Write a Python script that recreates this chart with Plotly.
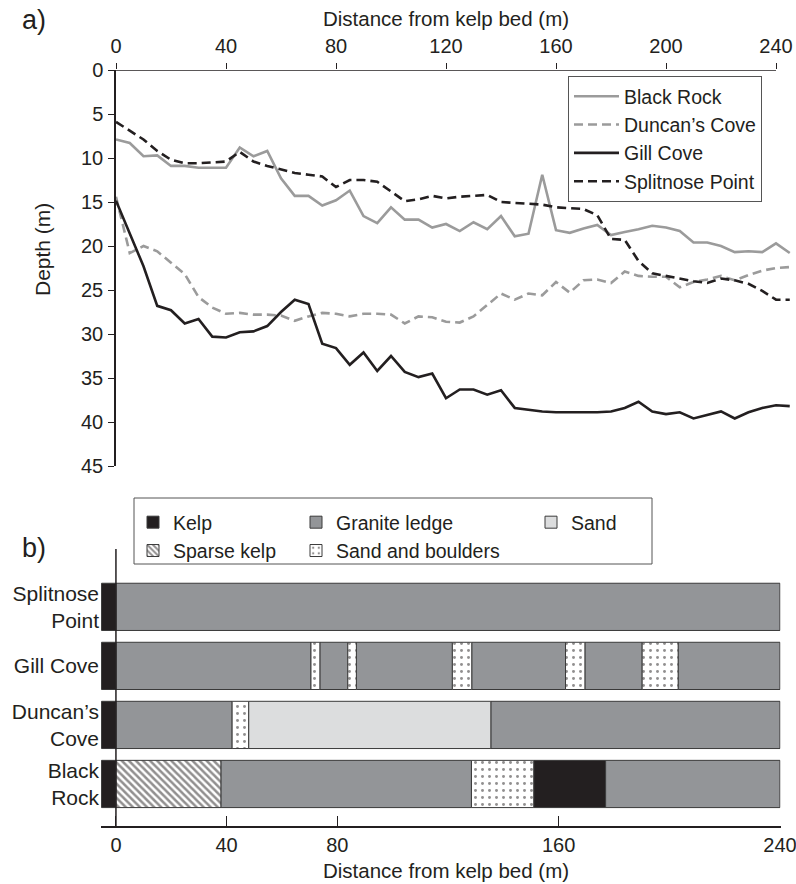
import plotly.graph_objects as go

# ---------------- data: depth profiles (panel a) ----------------
dist = [0, 5, 10, 15, 20, 25, 30, 35, 40, 45, 50, 55, 60, 65, 70, 75, 80, 85, 90, 95,
        100, 105, 110, 115, 120, 125, 130, 135, 140, 145, 150, 155, 160, 165, 170, 175,
        180, 185, 190, 195, 200, 205, 210, 215, 220, 225, 230, 235, 240, 245]

black_rock = [7.9, 8.3, 9.8, 9.7, 10.9, 10.9, 11.1, 11.1, 11.1, 8.8, 9.8, 9.2, 12.3, 14.3,
              14.3, 15.4, 14.8, 13.7, 16.6, 17.4, 15.6, 17.0, 17.0, 17.9, 17.5, 18.3, 17.3,
              18.1, 16.6, 18.9, 18.6, 11.9, 18.2, 18.5, 18.0, 17.6, 18.75, 18.4, 18.1, 17.7,
              17.9, 18.3, 19.6, 19.6, 20.0, 20.7, 20.6, 20.7, 19.7, 20.8]

duncans_cove = [14.4, 20.8, 20.0, 20.6, 21.9, 23.2, 25.8, 27.0, 27.7, 27.6, 27.8, 27.8, 27.9,
                28.5, 28.0, 27.6, 27.7, 28.0, 27.7, 27.7, 27.8, 28.8, 28.0, 28.1, 28.6, 28.7,
                28.0, 26.7, 25.4, 26.1, 25.4, 25.6, 24.1, 25.3, 23.9, 23.8, 24.2, 22.9, 23.4,
                23.5, 23.5, 24.7, 24.1, 23.8, 23.4, 23.9, 23.3, 22.8, 22.5, 22.4]

gill_cove = [14.85, 18.6, 22.3, 26.8, 27.3, 28.8, 28.3, 30.3, 30.4, 29.8, 29.7, 29.1, 27.5,
             26.1, 26.6, 31.1, 31.6, 33.5, 32.1, 34.2, 32.5, 34.3, 34.9, 34.5, 37.3, 36.3,
             36.3, 36.9, 36.4, 38.4, 38.6, 38.8, 38.9, 38.9, 38.9, 38.9, 38.8, 38.4, 37.7,
             38.8, 39.1, 38.9, 39.6, 39.2, 38.8, 39.6, 38.9, 38.4, 38.1, 38.2]

splitnose_point = [5.9, 6.9, 7.9, 9.2, 10.2, 10.6, 10.6, 10.5, 10.4, 9.3, 10.4, 10.9, 11.3,
                   11.7, 11.9, 12.1, 13.3, 12.5, 12.5, 12.7, 13.8, 14.9, 14.7, 14.3, 14.6,
                   14.4, 14.3, 14.2, 15.0, 15.1, 15.2, 15.3, 15.6, 15.7, 15.8, 16.5, 19.2,
                   19.3, 21.7, 23.1, 23.4, 23.7, 24.0, 24.2, 23.7, 23.9, 24.3, 25.1, 26.1, 26.1]

line_names = ["Black Rock", "Duncan’s Cove", "Gill Cove", "Splitnose Point"]

# ---------------- data: habitat segments (panel b) ----------------
site_keys = ["Black Rock", "Duncan’s Cove", "Gill Cove", "Splitnose Point"]
site_labels = ["Black<br>Rock", "Duncan’s<br>Cove", "Gill Cove", "Splitnose<br>Point"]

br_edges = [-5.2, 0, 38, 128.5, 151, 177, 240]
br_types = ["Kelp", "Sparse kelp", "Granite ledge", "Sand and boulders", "Kelp", "Granite ledge"]

dc_edges = [-5.2, 0, 42, 48, 135.5, 240]
dc_types = ["Kelp", "Granite ledge", "Sand and boulders", "Sand", "Granite ledge"]

gc_edges = [-5.2, 0, 70.5, 73.7, 83.8, 86.9, 121.6, 128.6, 162.5, 169.5, 190.2, 203.2, 240]
gc_types = ["Kelp", "Granite ledge", "Sand and boulders", "Granite ledge", "Sand and boulders",
            "Granite ledge", "Sand and boulders", "Granite ledge", "Sand and boulders",
            "Granite ledge", "Sand and boulders", "Granite ledge"]

sp_edges = [-5.2, 0, 240]
sp_types = ["Kelp", "Granite ledge"]

habitat_types = ["Kelp", "Sparse kelp", "Granite ledge", "Sand and boulders", "Sand"]

x_ticks = [0, 40, 80, 120, 160, 200, 240]
x_ticks_b = [0, 40, 80, 160, 240]
y_ticks = [0, 5, 10, 15, 20, 25, 30, 35, 40, 45]

# ---------------- styling ----------------
W, H = 796, 884
INK = "#231f20"
GREY = "#9b9b9b"
FONT = "Liberation Sans, Arial, Helvetica, sans-serif"


def px_x(p):
    return p / W


def px_y(p):
    return 1 - p / H


fig = go.Figure()

line_styles = [
    dict(color=GREY, width=2.6, dash="solid"),
    dict(color=GREY, width=2.6, dash="9px,5px"),
    dict(color=INK, width=2.6, dash="solid"),
    dict(color=INK, width=2.6, dash="9px,5px"),
]
for name, vals, st in zip(line_names, [black_rock, duncans_cove, gill_cove, splitnose_point], line_styles):
    fig.add_trace(go.Scatter(x=dist, y=vals, mode="lines", name=name, line=st,
                             xaxis="x", yaxis="y", legend="legend", hoverinfo="skip"))

# habitat bars
type_style = {
    "Kelp": dict(color=INK),
    "Sparse kelp": dict(color="white", pattern=dict(shape="\\", fgcolor=INK, bgcolor="white",
                                                     size=5, solidity=0.5, fillmode="overlay")),
    "Granite ledge": dict(color="#939598"),
    "Sand and boulders": dict(color="white", pattern=dict(shape=".", fgcolor=INK, bgcolor="white",
                                                           size=7, solidity=0.14, fillmode="overlay")),
    "Sand": dict(color="#dcddde"),
}
type_legend = {"Kelp": "legend2", "Sparse kelp": "legend2", "Granite ledge": "legend3",
               "Sand and boulders": "legend3", "Sand": "legend4"}

all_sites = [(site_keys[0], br_edges, br_types), (site_keys[1], dc_edges, dc_types),
             (site_keys[2], gc_edges, gc_types), (site_keys[3], sp_edges, sp_types)]

for t in habitat_types:
    ys, bases, lens = [], [], []
    for site, edges, types in all_sites:
        for i, tt in enumerate(types):
            if tt == t:
                ys.append(site)
                bases.append(edges[i])
                lens.append(edges[i + 1] - edges[i])
    st = dict(type_style[t])
    st["line"] = dict(color="#3a3a3a", width=1)
    fig.add_trace(go.Bar(y=ys, x=lens, base=bases, orientation="h", name=t, marker=st,
                         legendgroup=t, xaxis="x2", yaxis="y2", legend=type_legend[t],
                         hoverinfo="skip"))

# ---------------- axes ----------------
tickfont = dict(family=FONT, size=20, color=INK)
legfont = dict(family=FONT, size=19.5, color=INK)

fig.update_layout(
    width=W, height=H, margin=dict(l=0, r=0, t=0, b=0, autoexpand=False),
    paper_bgcolor="white", plot_bgcolor="white",
    font=dict(family=FONT, color=INK),
    barmode="overlay", bargap=0.2,
    xaxis=dict(domain=[px_x(116), px_x(116 + 245.5 * 2.75)], range=[0, 245.5], side="top",
               anchor="y", tickvals=x_ticks, ticks="outside", ticklen=6, tickwidth=1.3,
               tickcolor=INK, showline=False, showgrid=False, zeroline=False,
               tickfont=tickfont, ticklabelstandoff=2, automargin=False,
               ticklabeloverflow="allow"),
    yaxis=dict(domain=[px_y(466), px_y(70)], range=[45, 0], anchor="x",
               tickvals=y_ticks, ticks="outside", ticklen=6, tickwidth=1.3, tickcolor=INK,
               showline=True, linecolor=INK, linewidth=1.5, showgrid=False, zeroline=False,
               tickfont=tickfont, ticklabelstandoff=1, automargin=False,
               ticklabeloverflow="allow"),
    xaxis2=dict(domain=[px_x(101), px_x(780.5)], range=[-5.4, 240.2], anchor="y2",
                tickvals=x_ticks_b, ticks="inside", ticklen=10, tickwidth=1.3, tickcolor=INK,
                showline=True, linecolor=INK, linewidth=1.5, showgrid=False, zeroline=False,
                tickfont=tickfont, ticklabelstandoff=0, automargin=False,
                ticklabeloverflow="allow"),
    yaxis2=dict(domain=[px_y(826), px_y(549)], range=[-0.712, 3.98], anchor="x2",
                type="category", categoryorder="array", categoryarray=site_keys,
                tickvals=site_keys, ticktext=site_labels, ticks="", showline=False,
                showgrid=False, zeroline=False, tickfont=dict(family=FONT, size=21, color=INK),
                ticklabelstandoff=1, automargin=False, ticklabeloverflow="allow"),
    legend=dict(x=px_x(568), y=px_y(76), xanchor="left", yanchor="top",
                bordercolor="#555555", borderwidth=1, bgcolor="white",
                font=legfont, itemwidth=45, tracegroupgap=0, traceorder="normal"),
    legend2=dict(x=px_x(133), y=px_y(503), xanchor="left", yanchor="top",
                 font=legfont, bgcolor="rgba(0,0,0,0)",
                 tracegroupgap=0, traceorder="grouped", itemwidth=30),
    legend3=dict(x=px_x(296), y=px_y(503), xanchor="left", yanchor="top",
                 font=legfont, bgcolor="rgba(0,0,0,0)",
                 tracegroupgap=0, traceorder="grouped", itemwidth=30),
    legend4=dict(x=px_x(531), y=px_y(503), xanchor="left", yanchor="top",
                 font=legfont, bgcolor="rgba(0,0,0,0)",
                 tracegroupgap=0, traceorder="grouped", itemwidth=30),
)

shapes = [
    # top axis line from 0 to 240
    dict(type="line", xref="x", yref="y", x0=0, x1=240, y0=0, y1=0,
         line=dict(color=INK, width=1.5), layer="above"),
    # vertical axis at distance 0 in panel b
    dict(type="line", xref="x2", yref="y2 domain", x0=0, x1=0, y0=0, y1=1,
         line=dict(color=INK, width=1.5), layer="above"),
    # legend box for panel b
    dict(type="rect", xref="paper", yref="paper", x0=px_x(134), x1=px_x(652),
         y0=px_y(564), y1=px_y(498), line=dict(color="#555555", width=1),
         fillcolor="white", layer="below"),
]
fig.update_layout(shapes=shapes)

ann = [
    dict(text="Distance from kelp bed (m)", x=px_x(446), y=px_y(18), xref="paper", yref="paper",
         showarrow=False, font=dict(family=FONT, size=20.5, color=INK), xanchor="center", yanchor="middle"),
    dict(text="Distance from kelp bed (m)", x=px_x(446), y=px_y(870), xref="paper", yref="paper",
         showarrow=False, font=dict(family=FONT, size=20.5, color=INK), xanchor="center", yanchor="middle"),
    dict(text="Depth (m)", x=px_x(42), y=px_y(250), xref="paper", yref="paper", textangle=-90,
         showarrow=False, font=dict(family=FONT, size=21, color=INK), xanchor="center", yanchor="middle"),
    dict(text="a)", x=px_x(20), y=px_y(20), xref="paper", yref="paper",
         showarrow=False, font=dict(family=FONT, size=27, color=INK), xanchor="left", yanchor="middle"),
    dict(text="b)", x=px_x(20), y=px_y(548), xref="paper", yref="paper",
         showarrow=False, font=dict(family=FONT, size=27, color=INK), xanchor="left", yanchor="middle"),
]
fig.update_layout(annotations=ann)

fig.write_html("out.html")
